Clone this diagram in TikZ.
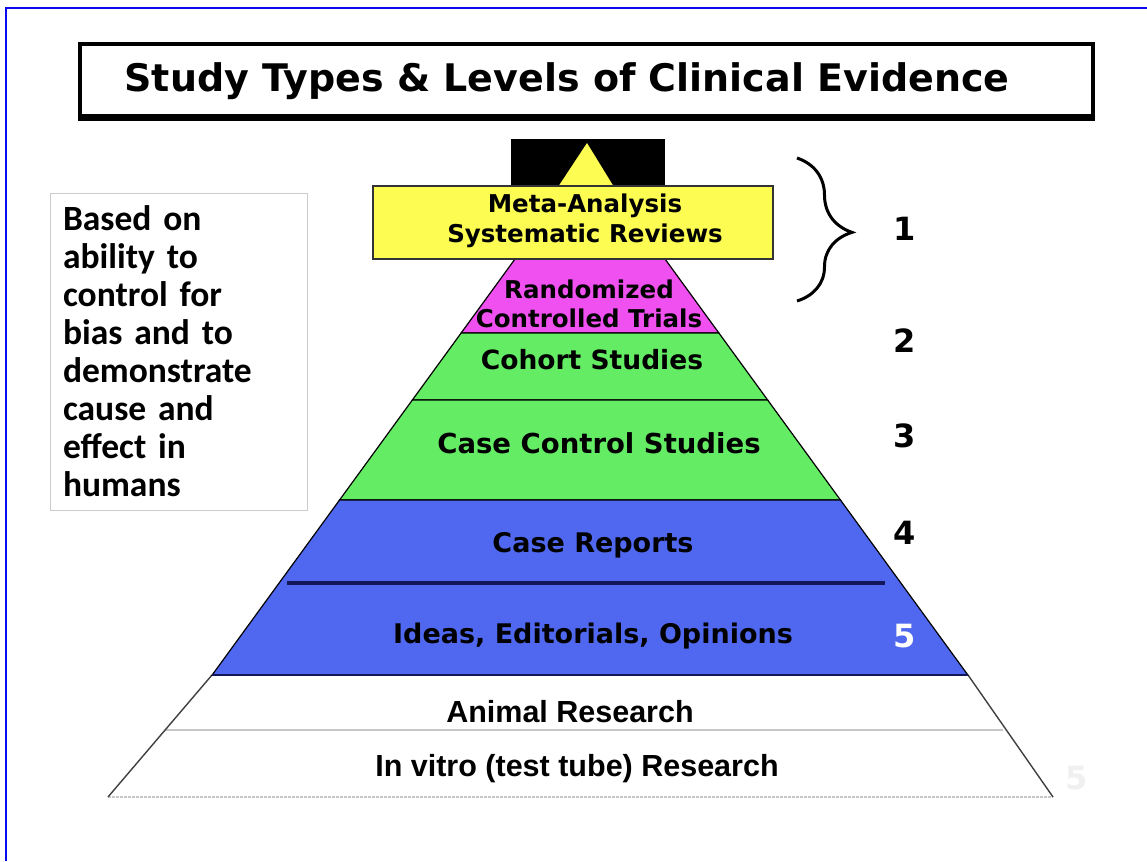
\documentclass[tikz,border=0pt]{standalone}
\usepackage{fontspec}
\usepackage{tikz}
\usetikzlibrary{shapes,positioning,decorations.pathreplacing,calc}
\usepackage{xcolor}
\newfontfamily\pyrfont{DejaVu Sans}
\newfontfamily\lowfont{Liberation Sans}
\newfontfamily\notefont{Carlito}
\definecolor{evblue}{RGB}{80,104,240}
\definecolor{evgreen}{RGB}{100,236,100}
\definecolor{evmagenta}{RGB}{240,80,240}
\definecolor{evyellow}{RGB}{252,252,82}
\definecolor{evnavy}{RGB}{20,22,90}
\definecolor{evframe}{RGB}{10,10,240}
\tikzstyle{layer} = [draw=black, line width=1.2pt, line join=miter]
\tikzstyle{layertext} = [font=\pyrfont\bfseries\fontsize{26}{30}\selectfont, text=black, align=center]
\tikzstyle{lowtext} = [font=\lowfont\bfseries\fontsize{30.5}{32}\selectfont, text=black]
\tikzstyle{levelnum} = [font=\pyrfont\bfseries\fontsize{32}{34}\selectfont, text=black]
\tikzstyle{faintline} = [draw=black!22, line width=1.2pt]

\begin{document}
\begin{tikzpicture}[x=1pt, y=-1pt]
\useasboundingbox (0,0) rectangle (1147,861);
\fill[white] (0,0) rectangle (1147,861);

% Frame
\draw[evframe, line width=2pt] (6,861) -- (6,8) -- (1147,8);

% Title
\node[draw, line width=4pt, minimum width=1013pt, minimum height=72pt, inner sep=0pt] (titleframe) at (586.5,80) {};
\draw[line width=4pt] ($(titleframe.south west)+(0,1.5)$) -- ($(titleframe.south east)+(0,1.5)$);
\node[font=\pyrfont\bfseries\fontsize{38}{40}\selectfont] (title) at (567,81) {Study Types \& Levels of Clinical Evidence};

% Note
\node[draw=black!20, line width=1pt, minimum width=257pt, minimum height=317pt, text width=231pt, align=left,
      font=\notefont\bfseries\fontsize{35.5}{38}\selectfont] (note) at (178.5,351.5)
  {Based on\\ability to\\control for\\bias and to\\demonstrate\\cause and\\effect in\\humans};

% Lower (white) part
\coordinate (lowL) at (212,675);
\coordinate (lowR) at (968,675);
\coordinate (baseL) at (108,797);
\coordinate (baseR) at (1053,797);
\draw[faintline] (165,730) -- (1003,730);
\draw[faintline, dash pattern=on 3pt off 1pt] (baseL) -- (baseR);
\draw[black!75, line width=1.4pt] (lowL) -- (baseL);
\draw[black!75, line width=1.4pt] (lowR) -- (baseR);

% Layers
\foreach \ya/\yb/\col in {259/333/evmagenta, 333/400/evgreen, 400/500/evgreen, 500/675/evblue}
  \draw[layer, fill=\col] ({515-0.728*(\ya-259)},\ya) -- ({665+0.728*(\ya-259)},\ya)
    -- ({665+0.728*(\yb-259)},\yb) -- ({515-0.728*(\yb-259)},\yb) -- cycle;
\draw[evnavy, line width=3.5pt] (287,583) -- (885,583);
\draw[evnavy, line width=2.5pt] (lowL) -- (lowR);

% Apex
\fill[black] (511,139) rectangle (665,187);
\fill[evyellow] (587,143) -- (614,187) -- (558,187) -- cycle;
\draw[fill=evyellow, draw=black!80, line width=1.2pt] (373,186) rectangle (773,259);

% Labels
\node[layertext, font=\pyrfont\bfseries\fontsize{24.5}{30}\selectfont] (meta) at (585,221) {Meta-Analysis\\Systematic Reviews};
\node[layertext, font=\pyrfont\bfseries\fontsize{24.5}{29}\selectfont] (rct) at (589,304) {Randomized\\Controlled Trials};
\node[layertext, font=\pyrfont\bfseries\fontsize{26.5}{30}\selectfont] (cohort) at (592,360) {Cohort Studies};
\node[layertext, font=\pyrfont\bfseries\fontsize{27.5}{30}\selectfont] (casecontrol) at (599,443) {Case Control Studies};
\node[layertext, font=\pyrfont\bfseries\fontsize{27}{30}\selectfont] (casereports) at (593,545) {Case Reports};
\node[layertext, font=\pyrfont\bfseries\fontsize{27}{30}\selectfont] (ideas) at (593,636) {Ideas, Editorials, Opinions};
\node[lowtext] (animal) at (570,712) {Animal Research};
\node[lowtext] (invitro) at (577,769) {In vitro (test tube) Research};

% Levels
\foreach \n/\y in {1/229, 2/341, 3/436, 4/533}
  \node[levelnum] (lvl\n) at (905,\y) {\n};
\node[levelnum, text=white] (lvl5) at (905,636) {5};
\node[levelnum, text=black!6] (lvl5b) at (1077,778) {5};

% Brace
\coordinate (bracetop) at (797,158);
\coordinate (bracebot) at (797,301);
\draw[line width=3pt, decorate, decoration={brace, amplitude=55pt, aspect=0.52}] (bracetop) -- (bracebot);
\end{tikzpicture}
\end{document}
